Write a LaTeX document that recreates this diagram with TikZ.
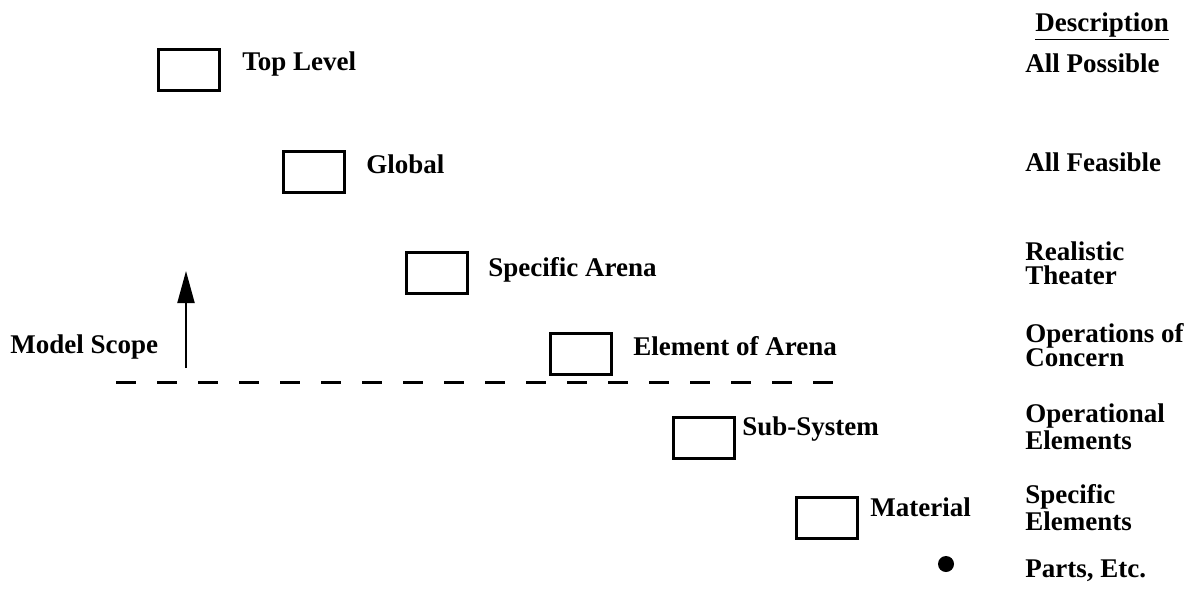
\documentclass[tikz,border=0pt]{standalone}
\usepackage{fontspec}
\setmainfont{Liberation Serif}
\usetikzlibrary{arrows.meta}
\tikzset{
  levelbox/.style={draw, line width=1.5pt, minimum width=30.5pt, minimum height=20.5pt, inner sep=0pt},
  levellabel/.style={anchor=base west, inner sep=0pt, font=\fontsize{13.5}{12}\selectfont\bfseries},
  desc/.style={levellabel, align=left}
}
\begin{document}
\begin{tikzpicture}[x=0.5pt, y=-0.5pt]
  \useasboundingbox (0,0) rectangle (1201,612);

  % Level boxes
  \node[levelbox] (top) at (189,69.5) {};
  \node[levelbox] (global) at (314,171.5) {};
  \node[levelbox] (arena) at (437,273) {};
  \node[levelbox] (element) at (580.5,354) {};
  \node[levelbox] (subsys) at (704,437.5) {};
  \node[levelbox] (material) at (827,518) {};
  \node[circle, fill, inner sep=0pt, minimum size=8pt] (parts) at (946,564) {};

  % Level labels
  \node[levellabel] (toplbl) at (242,70) {Top Level};
  \node[levellabel] (globallbl) at (366,173) {Global};
  \node[levellabel] (arenalbl) at (488,276) {Specific Arena};
  \node[levellabel] (elementlbl) at (633,355) {Element of Arena};
  \node[levellabel] (subsyslbl) at (742,435) {Sub-System};
  \node[levellabel] (materiallbl) at (870,516) {Material};

  % Model scope
  \node[levellabel] (scope) at (10,353) {Model Scope};
  \coordinate (scopebase) at (186,368);
  \coordinate (scopetip) at (186,271);
  \draw[line width=1pt, -{Triangle[length=16pt, width=8.5pt]}] (scopebase) -- (scopetip);
  \coordinate (cutleft) at (116,382);
  \coordinate (cutright) at (836,382);
  \draw[line width=1.5pt, dash pattern=on 10pt off 10.5pt] (cutleft) -- (cutright);

  % Description column (base = last line)
  \node[levellabel] (deschead) at (1035,31) {\underline{Description}};
  \node[desc] (desc1) at (1025,72) {All Possible};
  \node[desc] (desc2) at (1025,171) {All Feasible};
  \node[desc] (desc3) at (1025,284) {Realistic\\Theater};
  \node[desc] (desc4) at (1025,366) {Operations of\\Concern};
  \node[desc] (desc5) at (1025,449) {Operational\\Elements};
  \node[desc] (desc6) at (1025,530) {Specific\\Elements};
  \node[desc] (desc7) at (1025,577) {Parts, Etc.};
\end{tikzpicture}
\end{document}
